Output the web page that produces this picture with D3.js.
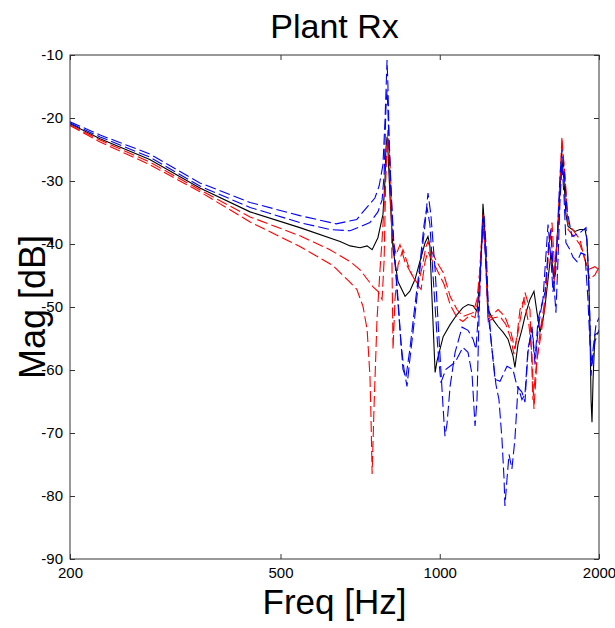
<!DOCTYPE html>
<html>
<head>
<meta charset="utf-8">
<script src="https://cdn.jsdelivr.net/npm/d3@7"></script>
<style>
  body { margin: 0; background: #fff; }
  svg { display: block; }
  .tick text { font-family: "Liberation Sans Narrow", "Arial Narrow", "Liberation Sans", Arial, sans-serif; font-size: 15px; fill: #000; }
</style>
</head>
<body>
<svg id="chart" width="615" height="628"></svg>
<script>
// axis setup
const xTicks = [200, 500, 1000, 2000];
const yTicks = [-90, -80, -70, -60, -50, -40, -30, -20, -10];

// [freq Hz, magnitude dB]
const nominal = [
  [200,-20.9],[228,-23.3],[283,-26.6],[352,-31.1],[438,-34.9],[544,-37.4],[648,-39.6],[677,-40.3],
  [707,-40.6],[729,-40.3],[745,-40.9],[764,-39.0],[781,-35.3],[788,-29.8],[791,-25.0],[795,-23.0],
  [798,-25.0],[805,-32.2],[816,-40.9],[834,-46.0],[860,-48.3],[878,-47.5],[898,-45.6],[917,-42.8],
  [938,-39.8],[950,-38.8],[958,-40.3],[967,-48.8],[980,-60.4],[988,-58.6],[1015,-54.7],[1046,-52.8],
  [1078,-51.2],[1106,-50.1],[1131,-49.6],[1156,-49.8],[1176,-50.7],[1191,-45.6],[1202,-38.5],[1207,-33.6],
  [1218,-38.5],[1234,-50.4],[1261,-52.0],[1289,-53.1],[1317,-54.0],[1346,-55.1],[1375,-57.7],[1387,-59.6],
  [1406,-55.9],[1430,-53.6],[1449,-51.5],[1481,-48.8],[1507,-47.5],[1527,-50.9],[1547,-54.0],[1567,-52.0],
  [1581,-49.9],[1602,-45.6],[1623,-41.4],[1644,-45.6],[1673,-37.7],[1688,-30.9],[1702,-26.6],[1717,-29.8],
  [1732,-35.3],[1748,-37.2],[1801,-38.0],[1841,-37.7],[1882,-37.7],[1898,-39.3],[1915,-47.2],[1923,-53.6],
  [1932,-64.7],[1940,-68.3],[1949,-61.5],[1965,-54.4],[2000,-54.0]
];

const blueHigh = [
  [200,-20.6],[228,-22.7],[283,-25.7],[352,-30.3],[438,-33.4],[544,-35.5],[637,-36.8],[697,-36.1],
  [716,-34.9],[754,-32.7],[768,-30.8],[781,-27.4],[788,-20.3],[795,-10.8],[798,-14.8],[802,-22.7],
  [809,-31.4],[820,-40.9],[834,-48.8],[845,-55.9],[856,-59.9],[867,-62.6],[878,-58.3],[898,-51.2],
  [917,-44.1],[938,-36.9],[950,-31.9],[962,-35.3],[980,-44.1],[997,-55.1],[1015,-66.2],[1023,-70.5],
  [1032,-68.6],[1046,-62.6],[1069,-57.2],[1102,-53.2],[1131,-53.7],[1156,-55.1],[1171,-56.7],[1181,-52.0],
  [1191,-45.6],[1202,-39.3],[1212,-35.3],[1223,-40.1],[1234,-48.8],[1250,-55.1],[1272,-61.5],[1300,-61.8],
  [1340,-59.4],[1375,-59.9],[1400,-62.6],[1430,-63.5],[1449,-65.1],[1468,-57.2],[1494,-53.1],[1514,-58.3],
  [1534,-52.0],[1567,-48.8],[1602,-36.9],[1623,-42.5],[1637,-47.6],[1658,-44.1],[1673,-36.1],[1688,-29.0],
  [1702,-25.0],[1717,-28.2],[1740,-34.6],[1778,-38.8],[1841,-38.2],[1890,-37.4],[1906,-42.5],[1923,-52.0],
  [1932,-60.9],[1949,-56.7],[1974,-52.8],[2000,-51.7]
];

const blueLow = [
  [200,-20.8],[228,-23.0],[283,-26.2],[352,-30.8],[438,-34.2],[544,-36.6],[620,-37.7],[677,-37.9],
  [738,-36.6],[764,-34.9],[778,-33.0],[785,-29.0],[791,-18.7],[795,-15.5],[798,-18.7],[805,-28.2],
  [816,-38.5],[830,-47.2],[841,-53.6],[852,-59.9],[863,-61.2],[878,-56.7],[898,-49.6],[917,-43.3],
  [934,-36.9],[946,-34.2],[958,-36.9],[975,-47.2],[992,-56.7],[1005,-62.0],[1027,-59.9],[1069,-58.8],
  [1106,-56.4],[1131,-57.2],[1151,-60.7],[1166,-68.9],[1176,-64.7],[1186,-52.0],[1197,-42.5],[1207,-35.8],
  [1218,-40.9],[1234,-50.9],[1255,-56.7],[1277,-62.3],[1294,-64.7],[1311,-71.0],[1323,-77.3],[1328,-81.6],
  [1340,-77.3],[1352,-73.4],[1369,-75.7],[1387,-71.0],[1406,-62.6],[1430,-64.7],[1449,-63.9],[1468,-56.7],
  [1494,-53.6],[1514,-59.1],[1534,-53.6],[1554,-50.4],[1581,-47.6],[1609,-39.3],[1623,-37.7],[1637,-44.1],
  [1658,-50.9],[1673,-42.5],[1688,-33.0],[1702,-27.4],[1717,-32.2],[1732,-39.8],[1763,-40.9],[1786,-42.1],
  [1818,-42.8],[1849,-41.4],[1882,-41.7],[1906,-48.8],[1923,-55.9],[1940,-59.1],[1965,-55.5],[2000,-53.6]
];

const redHigh = [
  [200,-21.1],[228,-23.5],[283,-27.0],[352,-31.4],[438,-35.7],[544,-38.7],[620,-40.9],[677,-42.8],
  [707,-44.1],[748,-46.8],[764,-47.5],[778,-48.8],[785,-42.5],[791,-28.2],[798,-21.9],[805,-29.8],
  [812,-38.5],[827,-41.7],[841,-40.1],[860,-42.9],[890,-45.2],[910,-46.4],[926,-43.7],[942,-40.4],
  [950,-39.6],[962,-40.9],[988,-42.9],[1015,-44.5],[1046,-48.3],[1078,-50.4],[1106,-51.5],[1156,-50.9],
  [1176,-48.8],[1191,-44.1],[1207,-35.3],[1218,-40.1],[1234,-52.0],[1261,-51.2],[1289,-50.4],[1328,-51.5],
  [1363,-54.0],[1387,-56.7],[1406,-54.0],[1449,-47.7],[1481,-50.4],[1500,-64.7],[1520,-59.9],[1547,-54.0],
  [1581,-48.8],[1609,-39.8],[1630,-36.6],[1651,-44.9],[1673,-36.9],[1688,-29.8],[1702,-23.0],[1717,-27.4],
  [1748,-36.6],[1801,-38.2],[1841,-39.3],[1866,-41.4],[1906,-44.1],[1965,-43.6],[2000,-44.1]
];

const redLow = [
  [200,-21.2],[228,-23.8],[283,-27.4],[352,-31.7],[438,-36.5],[544,-40.4],[628,-43.4],[677,-46.1],
  [697,-47.2],[716,-49.9],[729,-53.6],[738,-61.0],[741,-66.7],[745,-76.5],[751,-66.2],[761,-52.0],
  [771,-44.1],[778,-39.3],[788,-31.4],[795,-25.0],[802,-23.5],[809,-31.4],[816,-56.7],[823,-48.8],
  [834,-43.3],[852,-40.9],[871,-43.3],[886,-44.9],[906,-46.4],[922,-47.2],[938,-42.8],[950,-41.2],
  [962,-42.2],[988,-44.1],[1019,-46.4],[1046,-49.6],[1078,-51.7],[1106,-52.3],[1141,-51.3],[1166,-51.7],
  [1181,-48.8],[1197,-40.9],[1207,-36.9],[1223,-42.5],[1234,-52.3],[1266,-51.7],[1300,-51.5],[1334,-52.8],
  [1363,-55.1],[1381,-57.5],[1400,-54.5],[1418,-50.4],[1443,-48.8],[1474,-52.8],[1494,-57.5],[1507,-66.2],
  [1527,-58.3],[1554,-54.4],[1581,-49.6],[1602,-42.5],[1623,-38.0],[1644,-46.4],[1666,-39.3],[1688,-32.2],
  [1702,-24.3],[1725,-29.0],[1748,-37.7],[1801,-39.0],[1841,-40.1],[1882,-42.5],[1923,-45.6],[1965,-44.9],
  [2000,-43.7]
];

const plotL = 70, plotR = 599, plotT = 55, plotB = 559;
const svg = d3.select("#chart");
const font = '"Liberation Sans", Arial, Helvetica, sans-serif';

let x = d3.scaleLog().domain([200, 2000]).range([plotL, plotR]);
let y = d3.scaleLinear().domain([-90, -10]).range([plotB, plotT]);

svg.append("clipPath").attr("id", "plotArea")
  .append("rect").attr("x", plotL).attr("y", plotT)
  .attr("width", plotR - plotL).attr("height", plotB - plotT);

let line = d3.line().x(d => x(d[0])).y(d => y(d[1]));

let series = [
  {data: nominal, color: "#000000", dash: null},
  {data: redHigh, color: "#ff0000", dash: "11,4"},
  {data: redLow, color: "#ff0000", dash: "11,4"},
  {data: blueLow, color: "#0000ff", dash: "11,4"},
  {data: blueHigh, color: "#0000ff", dash: "11,4"}
];

let plot = svg.append("g").attr("clip-path", "url(#plotArea)");
series.forEach(s => {
  plot.append("path")
    .attr("d", line(s.data))
    .attr("fill", "none")
    .attr("stroke", s.color)
    .attr("stroke-width", 1.1)
    .attr("stroke-dasharray", s.dash);
});

// axes, ticks pointing inward like matlab
const axisColor = "#333";
svg.append("g").attr("transform", `translate(0,${plotB})`)
  .call(d3.axisBottom(x).tickValues(xTicks).tickFormat(d3.format("d"))
    .tickSizeInner(-5).tickSizeOuter(0).tickPadding(8));
svg.append("g").attr("transform", `translate(0,${plotT})`)
  .call(d3.axisTop(x).tickValues(xTicks).tickFormat("")
    .tickSizeInner(-5).tickSizeOuter(0));
svg.append("g").attr("transform", `translate(${plotL},0)`)
  .call(d3.axisLeft(y).tickValues(yTicks).tickFormat(d3.format("d"))
    .tickSizeInner(-5).tickSizeOuter(0).tickPadding(7));
svg.append("g").attr("transform", `translate(${plotR},0)`)
  .call(d3.axisRight(y).tickValues(yTicks).tickFormat("")
    .tickSizeInner(-5).tickSizeOuter(0));

svg.selectAll(".domain").remove();
svg.selectAll(".tick line").attr("stroke", axisColor);
svg.selectAll(".tick text").text(function() { return this.textContent.replace("\u2212", "-"); });

svg.append("rect")
  .attr("x", plotL).attr("y", plotT)
  .attr("width", plotR - plotL).attr("height", plotB - plotT)
  .attr("fill", "none").attr("stroke", axisColor).attr("stroke-width", 1);

// labels
svg.append("text")
  .attr("x", (plotL + plotR) / 2).attr("y", 38)
  .attr("text-anchor", "middle")
  .style("font-family", font).style("font-size", "34px")
  .text("Plant Rx");

svg.append("text")
  .attr("x", (plotL + plotR) / 2).attr("y", 614)
  .attr("text-anchor", "middle")
  .style("font-family", font).style("font-size", "35px")
  .text("Freq [Hz]");

svg.append("text")
  .attr("transform", `translate(45,${(plotT + plotB) / 2}) rotate(-90)`)
  .attr("text-anchor", "middle")
  .style("font-family", font).style("font-size", "36px")
  .text("Mag [dB]");
</script>
</body>
</html>
